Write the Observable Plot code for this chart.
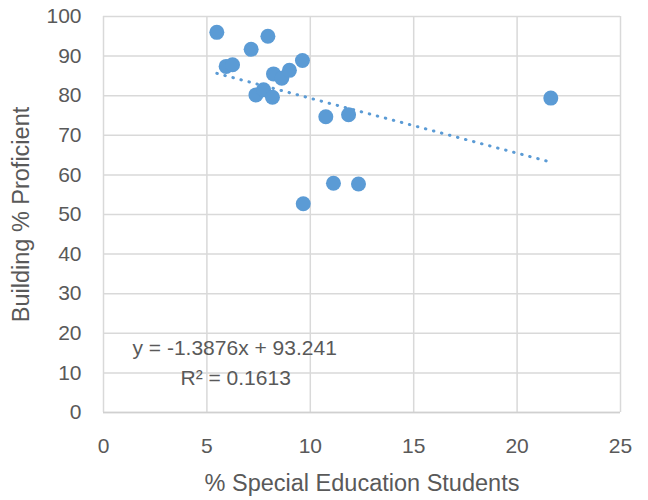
<!DOCTYPE html>
<html>
<head>
<meta charset="utf-8">
<script src="https://cdn.jsdelivr.net/npm/d3@7"></script>
<script src="https://cdn.jsdelivr.net/npm/@observablehq/plot@0.6"></script>
<style>
  html, body { margin: 0; padding: 0; background: #fff; }
  svg { display: block; }
</style>
</head>
<body>
<div id="chart"></div>
<script>
// Data
const specEd = [5.48, 7.95, 7.14, 5.93, 6.24, 8.22, 8.62, 8.99, 9.62, 7.37, 7.74, 8.17, 10.75, 11.85, 11.12, 12.33, 9.66, 21.63];
const proficient = [96.0, 95.0, 91.7, 87.4, 87.8, 85.5, 84.4, 86.4, 88.9, 80.2, 81.5, 79.6, 74.7, 75.2, 57.9, 57.7, 52.7, 79.4];
const slope = -1.3876;
const intercept = 93.241;
const rSquared = 0.1613;
const xTicks = [0, 5, 10, 15, 20, 25];
const yTicks = [0, 10, 20, 30, 40, 50, 60, 70, 80, 90, 100];
const xTitle = "% Special Education Students";
const yTitle = "Building % Proficient";

const points = specEd.map((x, i) => ({x, y: proficient[i]}));
const xMin = d3.min(specEd), xMax = d3.max(specEd);
const trend = [xMin, xMax].map(x => ({x, y: slope * x + intercept}));
const eqText = [`y = ${slope}x + ${intercept}`, `R² = ${rSquared}`];

const font = "Liberation Sans, Arial, sans-serif";
const grey = "#595959";
const blue = "#5b9bd5";

const chart = Plot.plot({
  width: 648,
  height: 500,
  marginLeft: 103,
  marginRight: 28,
  marginTop: 16,
  marginBottom: 88,
  style: {fontFamily: font, fontSize: "21px", color: grey, background: "#fff"},
  x: {domain: [0, 25]},
  y: {domain: [0, 100]},
  marks: [
    Plot.gridX(xTicks, {stroke: "#d9d9d9", strokeOpacity: 1, strokeWidth: 1.5}),
    Plot.gridY(yTicks, {stroke: "#d9d9d9", strokeOpacity: 1, strokeWidth: 1.5}),
    Plot.ruleY([0], {stroke: "#d0d0d0", strokeWidth: 1.5}),
    Plot.axisX({ticks: xTicks, tickSize: 0, tickPadding: 26, label: null, fontSize: 21, fill: grey}),
    Plot.axisX({ticks: [], tickSize: 0, label: xTitle, labelAnchor: "center", labelArrow: "none", labelOffset: 78, fontSize: 23.5, fill: grey}),
    Plot.axisY({ticks: yTicks, tickSize: 0, tickPadding: 22, label: null, fontSize: 21, fill: grey}),
    Plot.axisY({ticks: [], tickSize: 0, label: yTitle, labelAnchor: "center", labelArrow: "none", labelOffset: 91, fontSize: 23.5, fill: grey}),
    Plot.line(trend, {x: "x", y: "y", stroke: blue, strokeWidth: 3, strokeDasharray: "0.5 7.8", strokeLinecap: "round"}),
    Plot.dot(points, {x: "x", y: "y", r: 7.5, fill: blue, stroke: "none"}),
    Plot.text([eqText[0]], {frameAnchor: "bottom-left", dx: 29, dy: -58, text: d => d, fill: grey, fontSize: 21, textAnchor: "start"}),
    Plot.text([eqText[1]], {frameAnchor: "bottom-left", dx: 77, dy: -28, text: d => d, fill: grey, fontSize: 21, textAnchor: "start"})
  ]
});
document.getElementById("chart").append(chart);
</script>
</body>
</html>
